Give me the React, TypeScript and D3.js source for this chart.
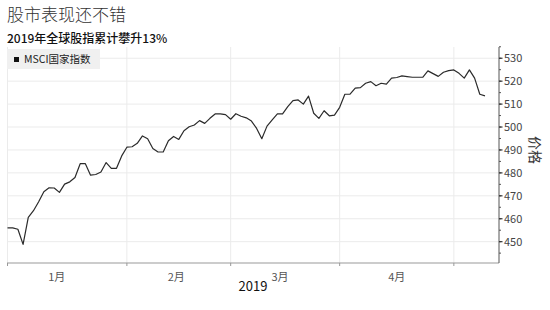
import React from 'react';
import * as d3 from 'd3';

// MSCI index values, one per trading day (Dec 31 2018 .. early May 2019)
const values: number[] = [
  456, 456, 455.4, 448.8, 460.6, 463.5, 467.4, 471.8, 473.5, 473.4,
  471.5, 475.1, 476.1, 478, 484, 484, 479, 479.3, 480.4, 484.5,
  482, 482, 487.4, 491.2, 491.4, 492.9, 496.1, 494.9, 490.6, 489.1,
  489.1, 494.0, 495.9, 494.6, 498.4, 500.1, 500.9, 502.8, 501.6, 503.8,
  505.7, 505.7, 505.4, 503.4, 505.8, 504.7, 504.0, 502.6, 499.4, 494.9,
  500.4, 503.1, 505.7, 505.7, 508.9, 511.5, 511.8, 510.0, 513.5, 506.0,
  503.8, 507.1, 504.9, 505.2, 508.6, 514.3, 514.3, 517.0, 517.2, 519.1,
  519.8, 518.0, 519.1, 518.7, 521.3, 521.6, 522.3, 522.0, 521.7, 521.7,
  521.7, 524.5, 523.3, 522.1, 523.9, 524.6, 524.9, 523.4, 521.3, 524.9,
  521.3, 514.3, 513.6,
];
const monthStartIdx: number[] = [0, 23, 43, 64, 86];
const monthLabels: string[] = ['1月', '2月', '3月', '4月'];
const monthLabelIdx: number[] = [9.5, 32.5, 52.5, 75];
const yMajorTicks: number[] = [450, 460, 470, 480, 490, 500, 510, 520, 530];
const yMinorTicks: number[] = d3.range(445, 536, 5);
const title = '股市表现还不错';
const subtitle = '2019年全球股指累计攀升13%';
const legendLabel = 'MSCI国家指数';
const yAxisTitle = '价格';
const yearLabel = '2019';

const CJK = '"Noto Sans CJK SC", "Noto Sans", sans-serif';

export default function App() {
  const W = 550, H = 310;
  const left = 7, right = 499, top = 47, bottom = 263;
  const x = d3.scaleLinear().domain([-0.1, 94.7]).range([left, right]);
  const y = d3.scaleLinear().domain([440.7, 534.9]).range([bottom, top]);
  const line = d3.line<number>().x((_, i) => x(i)).y((d) => y(d));

  return (
    <svg width={W} height={H} style={{ position: 'absolute', left: 0, top: 0, background: '#fff' }}>
      <rect x={0} y={0} width={W} height={H} fill="#fff" />
      {/* gridlines */}
      {yMajorTicks.map((t) => (
        <line key={'hg' + t} x1={left} x2={right} y1={y(t)} y2={y(t)} stroke="#ebebeb" strokeWidth={1} />
      ))}
      {monthStartIdx.map((m) => (
        <line key={'vg' + m} x1={x(m)} x2={x(m)} y1={top} y2={bottom} stroke="#ebebeb" strokeWidth={1} />
      ))}
      {/* title */}
      <text x={7} y={21} fontFamily={CJK} fontSize={17} fontWeight={300} fill="#333">{title}</text>
      <text x={7} y={43} fontFamily={CJK} fontSize={12} fontWeight={500} fill="#111">{subtitle}</text>
      {/* legend */}
      <rect x={7} y={49} width={93} height={20} fill="#f0f0f0" />
      <rect x={14} y={57} width={5} height={5} fill="#111" />
      <text x={24} y={63} fontFamily={CJK} fontSize={10.5} fill="#222">{legendLabel}</text>
      {/* data line */}
      <path d={line(values) || ''} fill="none" stroke="#2b2b2b" strokeWidth={1.2} strokeLinejoin="round" />
      {/* bottom axis */}
      <line x1={left} x2={right} y1={bottom} y2={bottom} stroke="#999" strokeWidth={1} />
      {monthStartIdx.map((m) => (
        <line key={'bt' + m} x1={x(m)} x2={x(m)} y1={bottom} y2={bottom + 3} stroke="#999" strokeWidth={1} />
      ))}
      {monthLabels.map((l, i) => (
        <text key={l} x={x(monthLabelIdx[i])} y={281} textAnchor="middle" fontFamily={CJK} fontSize={11} fill="#555">{l}</text>
      ))}
      <text x={(left + right) / 2} y={291} textAnchor="middle" fontFamily={CJK} fontSize={13} fill="#111">{yearLabel}</text>
      {/* right axis */}
      <line x1={right} x2={right} y1={top} y2={bottom} stroke="#555" strokeWidth={1} />
      {yMinorTicks.map((t) => (
        <line key={'mt' + t} x1={right} x2={right + 2} y1={y(t)} y2={y(t)} stroke="#555" strokeWidth={1} />
      ))}
      {yMajorTicks.map((t) => (
        <g key={'yt' + t}>
          <line x1={right} x2={right + 3.5} y1={y(t)} y2={y(t)} stroke="#333" strokeWidth={1.2} />
          <text x={504} y={y(t)} dy="0.35em" fontFamily={CJK} fontSize={11} fill="#444">{t}</text>
        </g>
      ))}
      <text transform={`translate(530,${(top + bottom) / 2 - 5}) rotate(90)`} textAnchor="middle" fontFamily={CJK} fontSize={14} fill="#333">{yAxisTitle}</text>
    </svg>
  );
}
